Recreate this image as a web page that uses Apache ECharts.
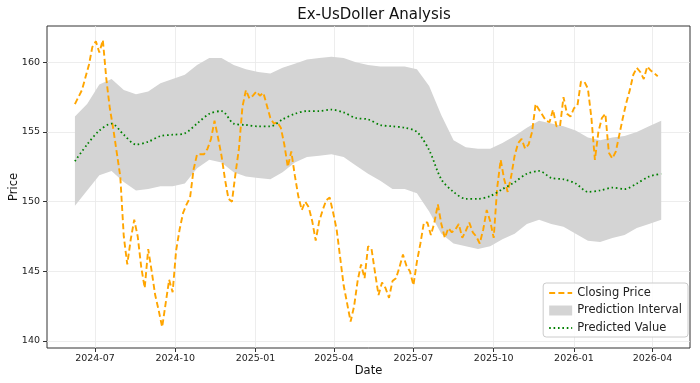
<!DOCTYPE html>
<html>
<head>
<meta charset="utf-8">
<script src="https://cdn.jsdelivr.net/npm/echarts@6/dist/echarts.min.js"></script>
<style>
html,body{margin:0;padding:0;background:#fff;}
#chart{width:700px;height:383px;}
</style>
</head>
<body>
<div id="chart"></div>
<script>
// ---- Data ----
const closeStart = '2024-06-08';
const closeStepDays = 4;
const closeValues = [
157.0,157.5,158.0,158.9,159.8,161.1,161.5,160.7,161.6,158.8,
156.7,155.2,153.5,151.8,147.5,145.5,147.3,148.7,147.5,145.3,
143.8,146.6,145.0,143.3,142.2,141.0,142.7,144.4,143.5,146.5,
148.0,149.2,149.8,150.3,152.3,153.4,153.4,153.4,153.8,154.5,
155.8,154.6,153.3,151.6,150.2,150.0,152.0,153.8,156.8,158.0,
157.4,157.6,157.9,157.6,157.8,156.9,156.0,155.6,155.7,155.3,
154.1,152.5,153.6,151.9,150.4,149.4,150.0,149.6,148.6,147.2,
148.6,149.4,150.1,150.3,149.2,148.0,146.0,144.0,142.7,141.4,
142.5,144.3,145.5,144.5,146.8,146.6,144.9,143.3,144.2,143.8,
143.1,144.3,144.5,145.3,146.2,145.4,145.0,144.0,145.7,147.0,
148.5,148.5,147.6,148.5,149.8,148.4,147.4,148.1,147.8,148.0,
148.4,147.4,147.9,148.5,147.8,147.5,147.0,148.0,149.4,148.6,
147.4,151.0,153.0,151.6,150.7,151.8,153.3,154.2,154.5,153.8,
154.1,155.0,157.0,156.6,156.2,155.8,155.7,156.6,155.4,155.4,
157.5,156.3,156.1,156.7,156.9,158.6,158.6,158.1,156.0,153.0,
155.0,156.0,156.3,153.5,153.1,153.6,154.8,156.0,157.1,158.0,
159.1,159.6,159.3,158.8,159.7,159.4,159.2,159.0
];

const predStart = '2024-06-08';
const predStepDays = 14;
const predValues = [
152.9,154.1,155.1,155.6,154.8,154.1,154.3,154.7,154.8,154.9,
155.6,156.3,156.5,155.6,155.5,155.4,155.4,155.9,156.3,156.5,
156.5,156.6,156.4,156.0,155.9,155.5,155.4,155.3,155.0,153.7,
151.6,150.7,150.2,150.2,150.4,150.9,151.4,152.0,152.2,151.7,
151.6,151.3,150.7,150.8,151.0,150.9,151.3,151.8,152.0
];
const upperValues = [
156.1,157.0,158.4,158.8,158.0,157.7,157.9,158.5,158.8,159.1,
159.8,160.3,160.3,159.8,159.5,159.3,159.2,159.6,159.9,160.2,
160.3,160.4,160.3,160.0,159.8,159.7,159.7,159.7,159.5,158.3,
156.2,154.4,153.9,153.8,153.8,154.2,154.7,155.3,155.8,155.6,
155.4,155.1,154.6,154.4,154.6,154.7,155.0,155.4,155.8
];
const lowerValues = [
149.7,150.8,151.9,152.2,151.4,150.8,150.9,151.1,151.1,151.3,
152.4,153.0,152.8,152.1,151.8,151.7,151.6,152.1,152.8,153.2,
153.3,153.4,153.2,152.6,152.0,151.5,150.9,150.9,150.6,149.3,
147.7,147.0,146.8,146.6,146.8,147.3,147.7,148.4,148.7,148.4,
148.2,147.7,147.2,147.1,147.4,147.6,148.1,148.4,148.7
];

const xTickLabels = ['2024-07','2024-10','2025-01','2025-04','2025-07','2025-10','2026-01','2026-04'];
const yTickValues = [140, 145, 150, 155, 160];

// ---- Helpers ----
const DAY = 86400000;
function utc(s){ const p = s.split('-').map(Number); return Date.UTC(p[0], p[1]-1, p[2] || 1); }
function series(start, step, vals){ const t0 = utc(start); return vals.map((v,i)=>[t0 + i*step*DAY, v]); }
function fmt(v){ const d = new Date(v); const m = d.getUTCMonth()+1; return d.getUTCFullYear() + '-' + (m<10?'0':'') + m; }

const closeData = series(closeStart, closeStepDays, closeValues);
const predData = series(predStart, predStepDays, predValues);
const bandData = lowerValues.map((lo,i)=>[utc(predStart) + i*predStepDays*DAY, lo, upperValues[i]]);
const xTicks = xTickLabels.map(s=>utc(s));

const FONT = 'DejaVu Sans';
const BAND = '#d4d4d4';
const chart = echarts.init(document.getElementById('chart'), null, {renderer:'canvas'});
chart.setOption({
  animation:false,
  backgroundColor:'#fff',
  textStyle:{fontFamily:FONT},
  title:{
    text:'Ex-UsDoller Analysis', left:369, top:3, textAlign:'center',
    textStyle:{fontFamily:FONT, fontSize:15, fontWeight:'normal', color:'#111'}
  },
  grid:{left:47, right:10, top:26, bottom:35, show:true, borderColor:'#333', borderWidth:1,
        backgroundColor:'transparent', containLabel:false, outerBoundsMode:'none'},
  legend:{
    orient:'vertical', right:12, bottom:46,
    backgroundColor:'rgba(255,255,255,0.85)', borderColor:'#cccccc', borderWidth:1, borderRadius:3,
    padding:[4,6,3,5], itemGap:5.5, itemWidth:23, itemHeight:10,
    textStyle:{fontFamily:FONT, fontSize:11.5, color:'#222'},
    data:[
      {name:'Closing Price', itemStyle:{opacity:0}},
      {name:'Prediction Interval', icon:'rect', itemStyle:{color:BAND}},
      {name:'Predicted Value', itemStyle:{opacity:0}}
    ]
  },
  xAxis:{
    type:'value', min:utc('2024-05-07'), max:utc('2026-05-14'),
    name:'Date', nameLocation:'middle', nameGap:17, nameMoveOverlap:false,
    nameTextStyle:{fontFamily:FONT, fontSize:11.5, color:'#111'},
    axisLine:{show:false},
    axisTick:{show:true, length:4, lineStyle:{color:'#333'}, customValues:xTicks},
    axisLabel:{fontFamily:FONT, fontSize:9.5, color:'#222', margin:6, customValues:xTicks, formatter:fmt},
    splitLine:{show:true, lineStyle:{color:'#e8e8e8', width:0.8}}
  },
  yAxis:{
    type:'value', min:139.5, max:162.6,
    name:'Price', nameLocation:'middle', nameGap:27, nameRotate:90, nameMoveOverlap:false,
    nameTextStyle:{fontFamily:FONT, fontSize:11.5, color:'#111'},
    axisLine:{show:false},
    axisTick:{show:true, length:4, lineStyle:{color:'#333'}, customValues:yTickValues},
    axisLabel:{fontFamily:FONT, fontSize:9.5, color:'#222', margin:7, customValues:yTickValues},
    splitLine:{show:true, lineStyle:{color:'#e8e8e8', width:0.8}}
  },
  series:[
    {name:'Prediction Interval', type:'custom', data:bandData, silent:true, z:1,
     itemStyle:{color:BAND},
     encode:{x:0, y:[1,2]},
     renderItem:function(params, api){
       if (params.dataIndex !== 0) return null;
       const up = [], lo = [];
       for (let i = 0; i < bandData.length; i++) {
         up.push(api.coord([bandData[i][0], bandData[i][2]]));
         lo.push(api.coord([bandData[i][0], bandData[i][1]]));
       }
       const pts = up.concat(lo.reverse());
       return {type:'polygon', shape:{points:pts}, style:{fill:BAND, stroke:null}};
     }},
    {name:'Closing Price', type:'line', data:closeData, symbol:'none',
     lineStyle:{color:'#FFA500', width:1.9, type:[6,3.2]}, itemStyle:{color:'#FFA500'}, z:3},
    {name:'Predicted Value', type:'line', data:predData, symbol:'none', smooth:0.3,
     lineStyle:{color:'#008000', width:1.8, type:[1.6,2.8]}, itemStyle:{color:'#008000'}, z:4}
  ]
});
</script>
</body>
</html>
